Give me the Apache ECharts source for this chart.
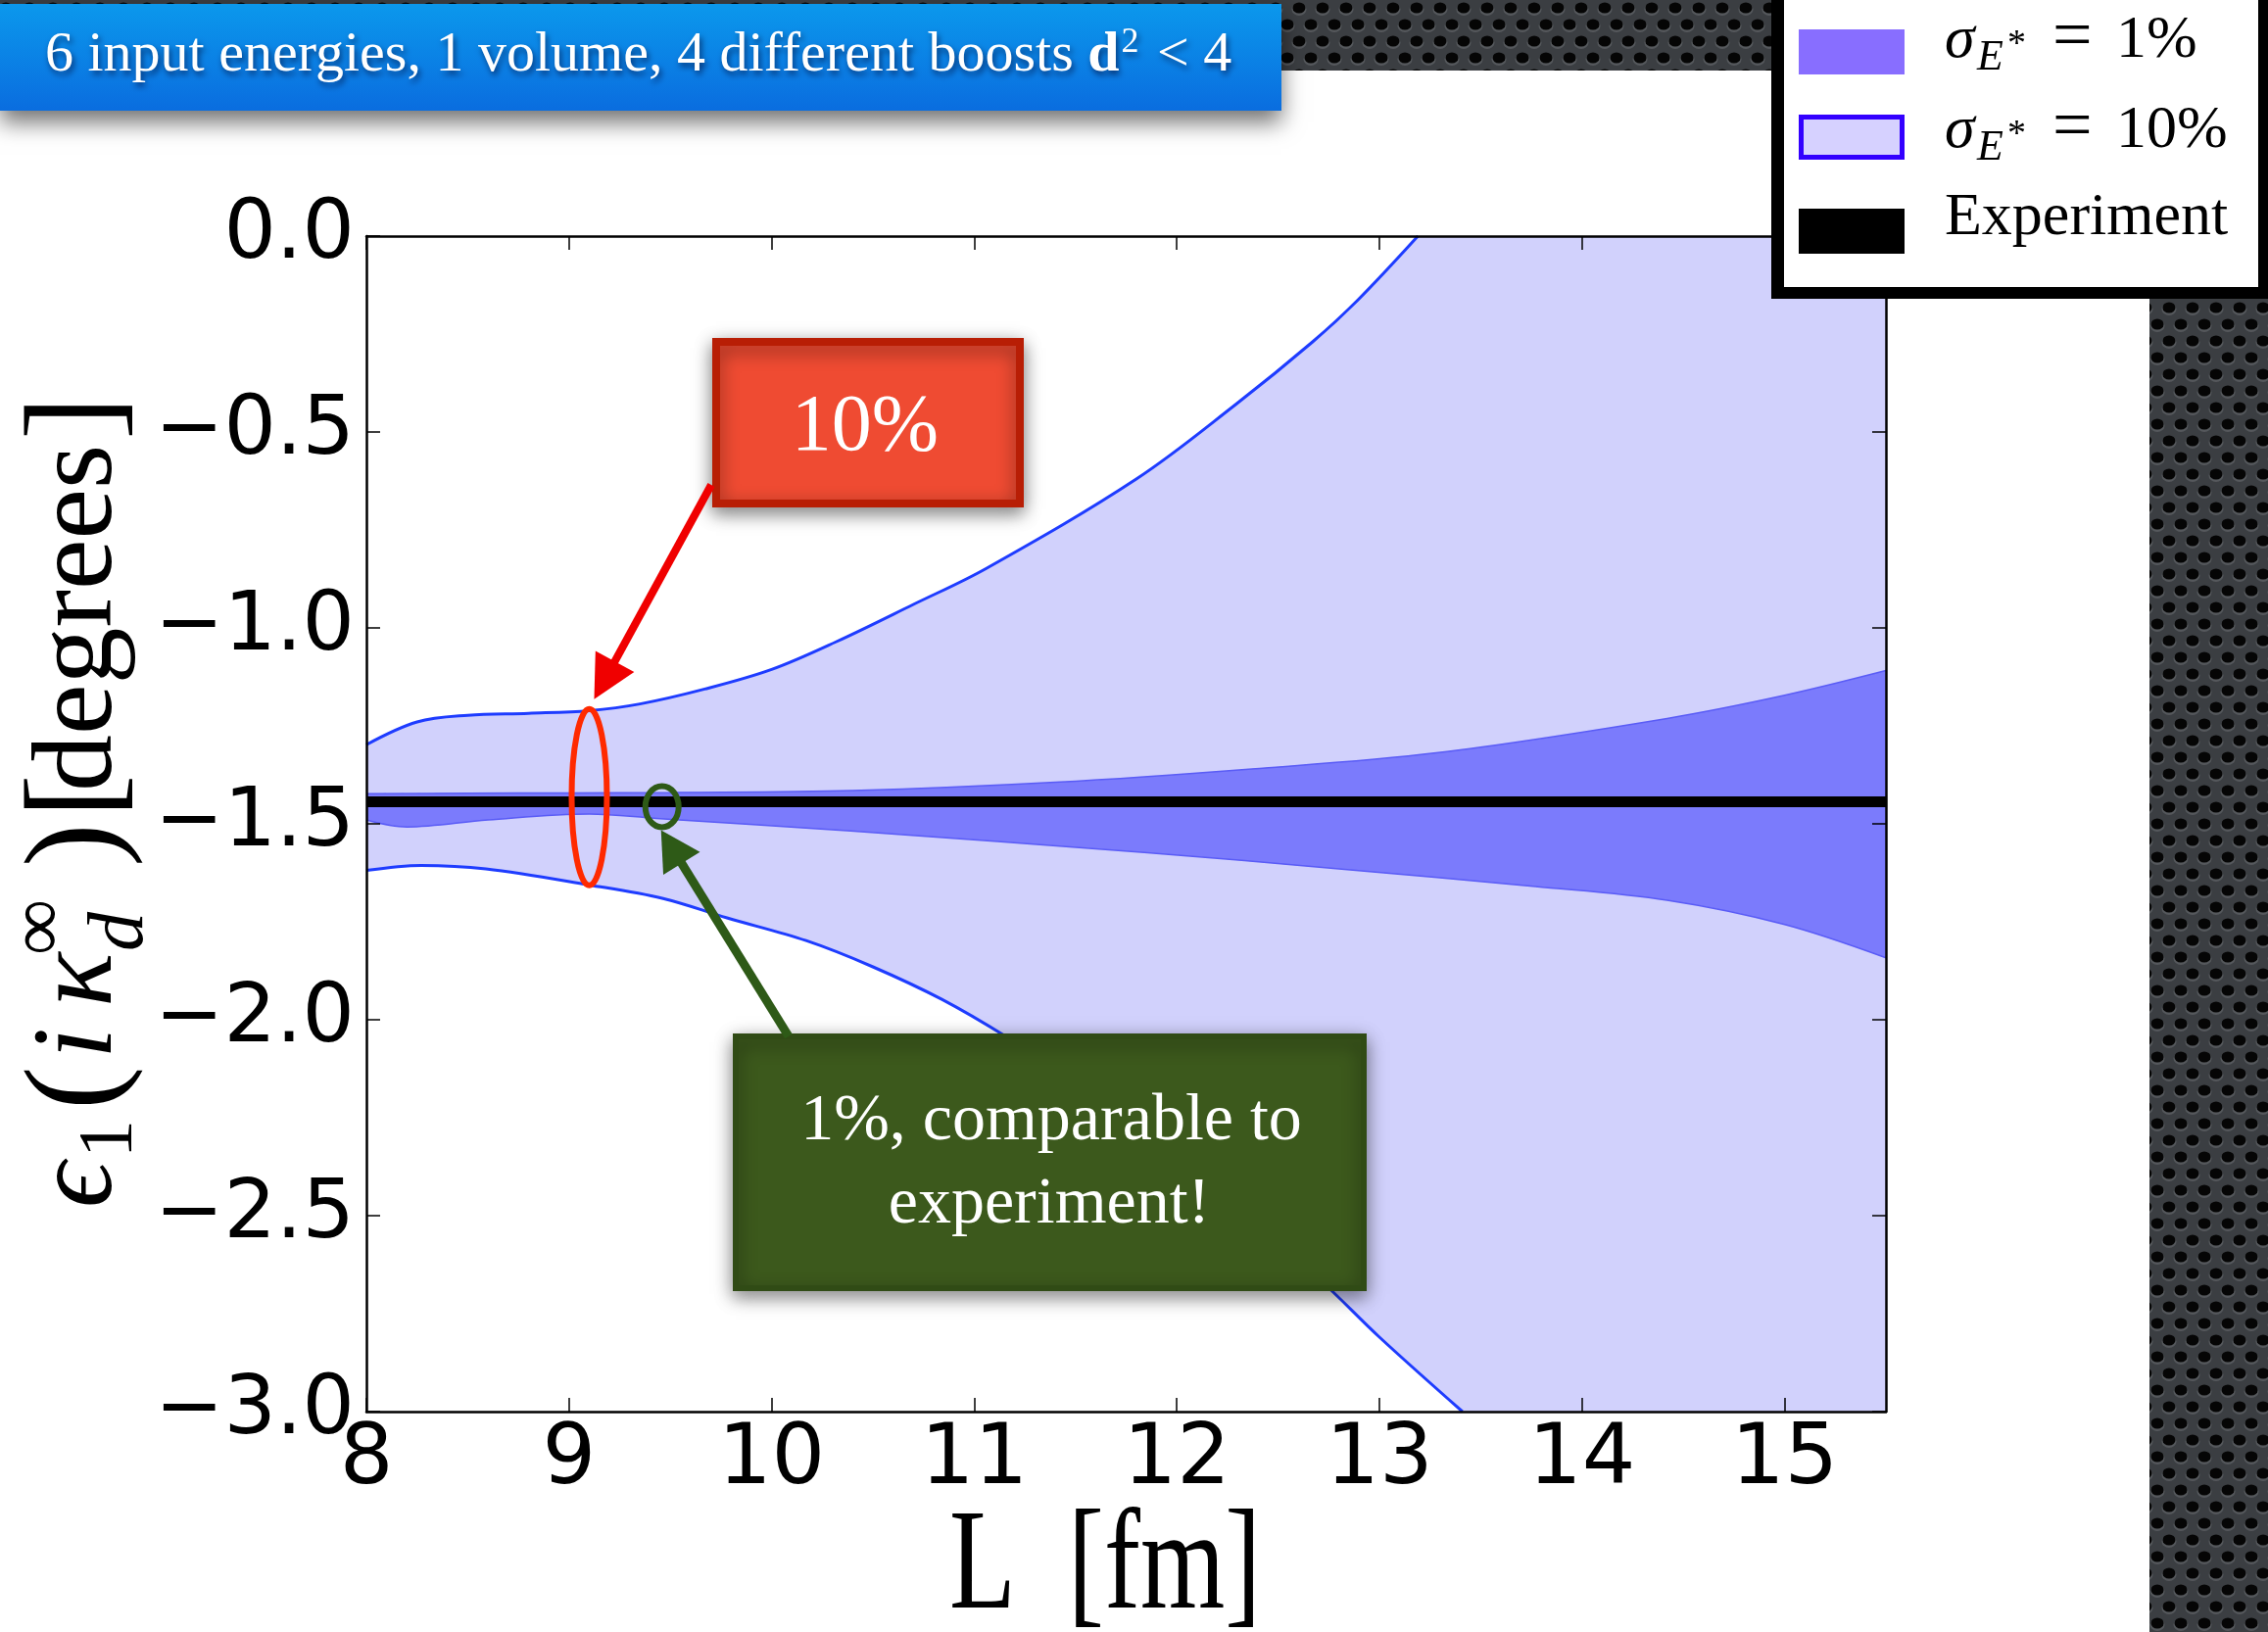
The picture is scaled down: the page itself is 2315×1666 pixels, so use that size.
<!DOCTYPE html>
<html>
<head>
<meta charset="utf-8">
<title>Deuteron binding: epsilon_1 vs L</title>
<script src="https://cdn.jsdelivr.net/npm/echarts@6/dist/echarts.min.js"></script>
<style>
  html, body { margin: 0; padding: 0; background: #ffffff; }
  #chart { width: 2315px; height: 1666px; }
</style>
</head>
<body>
<div id="chart"></div>
<script>
// ---- data: box size L [fm] and the bands of epsilon_1 [degrees] ----
// sigma_E* = 10% band, upper edge (leaves the frame at the top)
const L_UP10 = [8.0, 8.25, 8.5, 8.8, 9.1, 9.35, 9.67, 10.0, 10.32, 10.7, 11.06, 11.8, 12.29, 12.67, 12.89, 13.19];
const UP10   = [-1.298, -1.24, -1.223, -1.218, -1.211, -1.194, -1.156, -1.106, -1.035, -0.94, -0.848, -0.62, -0.43, -0.27, -0.165, 0.0];
// sigma_E* = 10% band, lower edge (leaves the frame at the bottom)
const L_LO10 = [8.0, 8.27, 8.59, 9.1, 9.46, 9.78, 10.17, 10.5, 10.84, 11.16, 11.5, 12.0, 12.5, 12.72, 13.0, 13.41];
const LO10   = [-1.619, -1.606, -1.615, -1.656, -1.69, -1.74, -1.798, -1.865, -1.948, -2.044, -2.16, -2.36, -2.575, -2.67, -2.81, -3.0];
// sigma_E* = 1% band, upper and lower edges
const L_UP1 = [8.0, 8.5, 9.0, 9.5, 10.4, 11.4, 12.37, 13.28, 14.42, 15.0, 15.5];
const UP1   = [-1.423, -1.422, -1.421, -1.42, -1.415, -1.394, -1.36, -1.319, -1.231, -1.172, -1.109];
const L_LO1 = [8.0, 8.2, 8.6, 9.1, 9.43, 10.39, 11.84, 12.8, 13.77, 14.42, 15.0, 15.5];
const LO1   = [-1.49, -1.508, -1.49, -1.475, -1.486, -1.518, -1.573, -1.615, -1.66, -1.695, -1.757, -1.842];
// experimental value
const EXPERIMENT = -1.444;

// axes
const X_MIN = 8, X_MAX = 15.5, X_STEP = 1;
const Y_MIN = -3, Y_MAX = 0, Y_STEP = 0.5;

// texts
const BANNER_TEXT = '6 input energies, 1 volume, 4 different boosts {b|d}{s|2} < 4';
const NOTE_10 = '10%';
const NOTE_1 = ['1%, comparable to', 'experiment!'];
const LEGEND_ROWS = ['1%', '10%', 'Experiment'];

// ---- styling ----
const SERIF = '"Liberation Serif", "DejaVu Serif", serif';
const SANS = '"DejaVu Sans", sans-serif';
const FILL_LIGHT = '#d1d1fc';
const FILL_DARK = '#7b7bfc';
const EDGE = '#1e3cff';
const EDGE_1 = '#5a5cf6';
const SMOOTH = 0.35;

const xy = (xs, ys) => xs.map((x, i) => [x, ys[i]]);
const minus = v => (v < 0 ? '\u2212' : '') + Math.abs(v).toFixed(1);

// perforated metal texture for the dark frame pieces
function perforated() {
  const c = document.createElement('canvas');
  c.width = 24; c.height = 34;
  const g = c.getContext('2d');
  g.fillStyle = '#3b3e42';
  g.fillRect(0, 0, 24, 34);
  const holes = [[6, 8], [18, 25], [-6, 25], [30, 8], [6, 42], [18, -9]];
  holes.forEach(([x, y]) => {
    g.fillStyle = '#55585c';
    g.beginPath(); g.ellipse(x, y + 1.5, 7.5, 6.5, 0, 0, Math.PI * 2); g.fill();
    g.fillStyle = '#050505';
    g.beginPath(); g.ellipse(x, y, 6.5, 5.5, 0, 0, Math.PI * 2); g.fill();
  });
  return c;
}
const TEXTURE = { image: perforated(), repeat: 'repeat' };

const chart = echarts.init(document.getElementById('chart'), null, { renderer: 'canvas' });

const axisLine = { show: true, onZero: false, lineStyle: { color: '#000', width: 2.5 } };
const axisTick = { show: true, inside: true, length: 14, lineStyle: { color: '#000', width: 1.5 } };

// where the clipped part of the 10% band starts (one pixel of overlap avoids a seam)
const CLIP_START = L_UP10[L_UP10.length - 1] - (X_MAX - X_MIN) / 1551;

const option = {
  animation: false,
  backgroundColor: '#ffffff',
  grid: { left: 374, right: 390, top: 241, bottom: 225, containLabel: false, outerBoundsMode: 'none' },
  xAxis: [
    {
      type: 'value', min: X_MIN, max: X_MAX, interval: X_STEP, position: 'bottom', z: 10,
      axisLine, axisTick, splitLine: { show: false },
      axisLabel: {
        show: true, color: '#000', fontFamily: SANS, fontSize: 86, margin: 8,
        showMaxLabel: false, showMinLabel: true,
        formatter: v => (Number.isInteger(v) ? String(v) : '')
      }
    },
    {
      type: 'value', min: X_MIN, max: X_MAX, interval: X_STEP, position: 'top', z: 10,
      axisLine, axisTick, splitLine: { show: false }, axisLabel: { show: false }
    }
  ],
  yAxis: [
    {
      type: 'value', min: Y_MIN, max: Y_MAX, interval: Y_STEP, position: 'left', z: 10,
      axisLine, axisTick, splitLine: { show: false },
      axisLabel: { color: '#000', fontFamily: SANS, fontSize: 84, margin: 12, formatter: minus }
    },
    {
      type: 'value', min: Y_MIN, max: Y_MAX, interval: Y_STEP, position: 'right', z: 10,
      axisLine, axisTick, splitLine: { show: false }, axisLabel: { show: false }
    }
  ],
  series: [
    { // 10% band: everything under its upper edge
      type: 'line', name: 'sigma10_upper', data: xy(L_UP10, UP10),
      smooth: SMOOTH, symbol: 'none', z: 1,
      lineStyle: { color: EDGE, width: 3 },
      areaStyle: { color: FILL_LIGHT, opacity: 1, origin: 'start' }
    },
    { // part of the 10% band beyond where its upper edge leaves the frame
      type: 'line', name: 'sigma10_clipped', symbol: 'none', z: 0,
      data: [[CLIP_START, Y_MAX], [X_MAX, Y_MAX]],
      lineStyle: { width: 0, opacity: 0 },
      areaStyle: { color: FILL_LIGHT, opacity: 1, origin: 'start' }
    },
    { // 1% band upper edge
      type: 'line', name: 'sigma1_upper', data: xy(L_UP1, UP1),
      smooth: SMOOTH, symbol: 'none', z: 2,
      lineStyle: { color: EDGE_1, width: 1.5 },
      areaStyle: { color: FILL_DARK, opacity: 1, origin: 'start' }
    },
    { // 1% band lower edge
      type: 'line', name: 'sigma1_lower', data: xy(L_LO1, LO1),
      smooth: SMOOTH, symbol: 'none', z: 3,
      lineStyle: { color: EDGE_1, width: 1.5 },
      areaStyle: { color: FILL_LIGHT, opacity: 1, origin: 'start' }
    },
    { // 10% band lower edge
      type: 'line', name: 'sigma10_lower', data: xy(L_LO10, LO10),
      smooth: SMOOTH, symbol: 'none', z: 4,
      lineStyle: { color: EDGE, width: 3 },
      areaStyle: { color: '#ffffff', opacity: 1, origin: 'start' }
    },
    { // experiment
      type: 'line', name: 'experiment', symbol: 'none', z: 6,
      data: [[X_MIN, EXPERIMENT], [X_MAX, EXPERIMENT]],
      lineStyle: { color: '#000000', width: 11 }
    }
  ]
};
chart.setOption(option);

// ---- annotations, legend, titles ----
const px = (x, y) => chart.convertToPixel({ gridIndex: 0 }, [x, y]);

function arrow(sx, sy, tx, ty, headLen, headW, width, color) {
  const dx = tx - sx, dy = ty - sy, len = Math.hypot(dx, dy);
  const ux = dx / len, uy = dy / len;
  const bx = tx - ux * headLen, by = ty - uy * headLen;
  const nx = -uy, ny = ux;
  return [
    { type: 'line', z: 120, shape: { x1: sx, y1: sy, x2: bx + ux * 2, y2: by + uy * 2 },
      style: { stroke: color, lineWidth: width } },
    { type: 'polygon', z: 120,
      shape: { points: [[tx, ty], [bx + nx * headW / 2, by + ny * headW / 2], [bx - nx * headW / 2, by - ny * headW / 2]] },
      style: { fill: color } }
  ];
}

// middle-aligned text whose baseline sits at y
function txt(x, baseline, text, size, opts) {
  const o = opts || {};
  return {
    type: 'text', x: x, y: baseline - 0.34 * size, z: o.z || 130,
    scaleX: o.scaleX || 1,
    style: {
      text: text, x: 0, y: 0, fill: o.fill || '#000',
      fontFamily: o.family || SERIF, fontSize: size,
      fontStyle: o.italic ? 'italic' : 'normal', fontWeight: o.bold ? 'bold' : 'normal',
      align: o.align || 'left', verticalAlign: 'middle'
    }
  };
}

// ellipse around the 10% spread and circle around the 1% spread
const ring10 = px(9.1, -1.432);
const ring1 = px(9.459, -1.456);

const graphics = [];

// dark perforated frame: top strip and right column
graphics.push({ type: 'rect', z: 90, shape: { x: 0, y: 0, width: 1812, height: 72 }, style: { fill: TEXTURE } });
graphics.push({ type: 'rect', z: 90, shape: { x: 2194, y: 296, width: 121, height: 1370 }, style: { fill: TEXTURE } });

// banner
graphics.push({
  type: 'rect', z: 100, shape: { x: 0, y: 4, width: 1308, height: 109 },
  style: {
    fill: new echarts.graphic.LinearGradient(0, 0, 0, 1, [
      { offset: 0, color: '#0b98ec' }, { offset: 1, color: '#0a6ddf' }
    ]),
    shadowBlur: 22, shadowColor: 'rgba(0,0,0,0.55)', shadowOffsetY: 12
  }
});
graphics.push({
  type: 'text', x: 46, y: 57, z: 110,
  style: {
    text: BANNER_TEXT, fill: '#ffffff', fontFamily: SERIF, fontSize: 58,
    align: 'left', verticalAlign: 'middle',
    textShadowBlur: 6, textShadowColor: 'rgba(0,0,40,0.6)', textShadowOffsetX: 2, textShadowOffsetY: 4,
    rich: {
      b: { fontFamily: SERIF, fontSize: 58, fontWeight: 'bold', fill: '#ffffff', color: '#ffffff' },
      s: { fontFamily: SERIF, fontSize: 36, fill: '#ffffff', color: '#ffffff', padding: [0, 4, 26, 2] }
    }
  }
});

// legend
graphics.push({ type: 'rect', z: 100, shape: { x: 1808, y: -20, width: 515, height: 325 }, style: { fill: '#000' } });
graphics.push({ type: 'rect', z: 101, shape: { x: 1821, y: -20, width: 484, height: 313 }, style: { fill: '#fff' } });
graphics.push({ type: 'rect', z: 102, shape: { x: 1836, y: 30, width: 108, height: 46 }, style: { fill: '#886eff' } });
graphics.push({ type: 'rect', z: 102, shape: { x: 1838.5, y: 119.5, width: 103, height: 41 }, style: { fill: '#d6d1ff', stroke: '#3300ff', lineWidth: 5 } });
graphics.push({ type: 'rect', z: 102, shape: { x: 1836, y: 213, width: 108, height: 46 }, style: { fill: '#000' } });
[[63, LEGEND_ROWS[0]], [155, LEGEND_ROWS[1]]].forEach(([b, val]) => {
  graphics.push(txt(1985, b, '\u03c3', 62, { italic: true }));
  graphics.push(txt(2018, b + 11, 'E', 44, { italic: true }));
  graphics.push(txt(2049, b - 4, '*', 38, {}));
  graphics.push(txt(2095, b + 2, '=', 72, {}));
  graphics.push(txt(2160, b, val, 62, {}));
});
graphics.push(txt(1985, 244, LEGEND_ROWS[2], 62, {}));

// red note: 10%
graphics.push({
  type: 'rect', z: 100, shape: { x: 731, y: 349, width: 310, height: 165 },
  style: { fill: '#ef4b32', stroke: '#b81e05', lineWidth: 8, shadowBlur: 18, shadowColor: 'rgba(0,0,0,0.45)', shadowOffsetY: 6 }
});
graphics.push(txt(883, 465, NOTE_10, 82, { fill: '#ffffff', align: 'center' }));
graphics.push(...arrow(726, 495, ring10[0] + 5, ring10[1] - 100, 44, 45, 8, '#f00000'));
graphics.push({
  type: 'ellipse', z: 120, shape: { cx: ring10[0], cy: ring10[1], rx: 18, ry: 90 },
  style: { fill: 'none', stroke: '#ff2a00', lineWidth: 6 }
});

// green note: 1%
graphics.push({
  type: 'rect', z: 100, shape: { x: 751, y: 1058, width: 641, height: 257 },
  style: { fill: '#3c591c', stroke: '#304b15', lineWidth: 6, shadowBlur: 18, shadowColor: 'rgba(0,0,0,0.45)', shadowOffsetY: 6 }
});
graphics.push(txt(1073, 1168, NOTE_1[0], 68, { fill: '#ffffff', align: 'center' }));
graphics.push(txt(1071, 1253, NOTE_1[1], 68, { fill: '#ffffff', align: 'center' }));
graphics.push(...arrow(805, 1058, ring1[0] - 1, ring1[1] + 24, 40, 44, 9, '#2e5a17'));
graphics.push({
  type: 'ellipse', z: 120, shape: { cx: ring1[0], cy: ring1[1], rx: 17, ry: 21 },
  style: { fill: 'none', stroke: '#2e5a17', lineWidth: 6 }
});

// x axis title: L [fm]
graphics.push(txt(969, 1652, 'L', 146, { scaleX: 0.76 }));
graphics.push(txt(1090, 1652, '[fm]', 146, { scaleX: 0.76 }));

// y axis title: epsilon_1(i kappa_d^inf) [degrees], read bottom to top
const yTitle = [
  [0, 0, '\u03f5', 116, true],
  [51, 17, '1', 78, false],
  [100, 5, '(', 134, false],
  [152, 0, 'i', 116, true],
  [205, 0, '\u03ba', 116, true],
  [262, 29, 'd', 80, true],
  [258, -52, '\u221e', 80, false],
  [348, 5, ')', 134, false],
  [398, 5, '[', 134, false],
  [425, 0, 'degrees', 116, false],
  [784, 5, ']', 134, false]
].map(([lx, ly, t, fs, it]) => ({
  type: 'text', x: lx, y: ly - 0.34 * fs,
  style: { text: t, x: 0, y: 0, fill: '#000', fontFamily: SERIF, fontSize: fs,
           fontStyle: it ? 'italic' : 'normal', align: 'left', verticalAlign: 'middle' }
}));
graphics.push({ type: 'group', x: 122, y: 1233, rotation: Math.PI / 2, z: 130, children: yTitle });

chart.setOption({ graphic: graphics });
</script>
</body>
</html>
